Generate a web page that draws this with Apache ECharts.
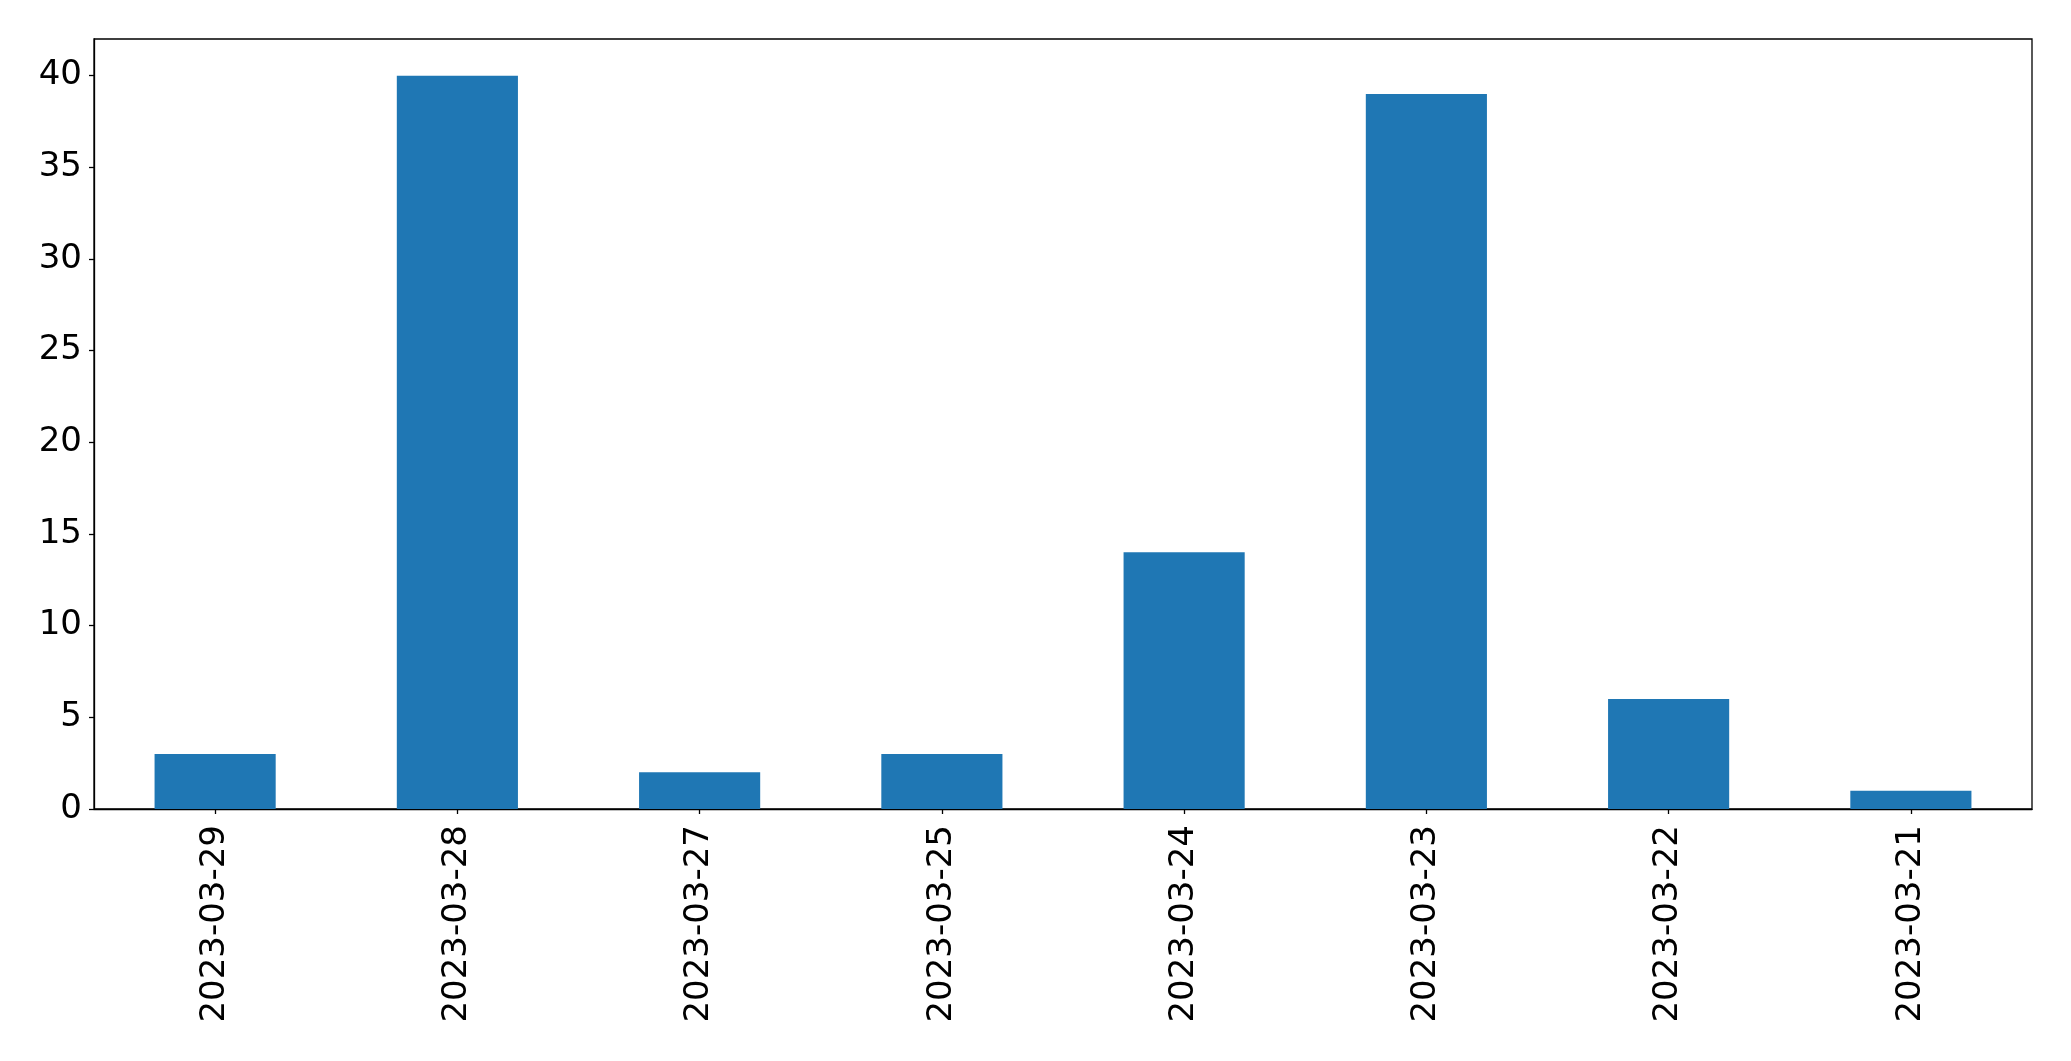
<!DOCTYPE html>
<html><head><meta charset="utf-8">
<script src="https://cdn.jsdelivr.net/npm/echarts@6/dist/echarts.min.js"></script>
<style>html,body{margin:0;padding:0;background:#fff}#c{width:2071px;height:1061px}</style>
</head><body><div id="c"></div>
<script>
const categories = ['2023-03-29','2023-03-28','2023-03-27','2023-03-25','2023-03-24','2023-03-23','2023-03-22','2023-03-21'];
const values = [3, 40, 2, 3, 14, 39, 6, 1];
const yTicks = [0, 5, 10, 15, 20, 25, 30, 35, 40];
const yMax = 42;

const chart = echarts.init(document.getElementById('c'), null, {renderer: 'canvas'});
const font = 'DejaVu Sans';
chart.setOption({
  animation: false,
  grid: {left: 94, right: 39, top: 39, bottom: 252, show: true, borderColor: '#000', borderWidth: 1.3, containLabel: false},
  xAxis: {
    type: 'category', data: categories,
    axisLine: {show: true, lineStyle: {color: '#000', width: 1.3}},
    axisTick: {show: true, alignWithLabel: true, length: 5, inside: false, lineStyle: {color: '#000', width: 1.3}},
    axisLabel: {rotate: 90, margin: 16, color: '#000', fontSize: 34, fontFamily: font},
    splitLine: {show: false}
  },
  yAxis: {
    type: 'value', min: 0, max: yMax, interval: 5,
    axisLine: {show: true, lineStyle: {color: '#000', width: 1.3}},
    axisTick: {show: true, length: 5, customValues: yTicks, lineStyle: {color: '#000', width: 1.3}},
    axisLabel: {margin: 12, color: '#000', fontSize: 34, fontFamily: font, customValues: yTicks},
    splitLine: {show: false}
  },
  series: [{
    type: 'bar', data: values, barWidth: '50%',
    itemStyle: {color: '#1f77b4'}
  }]
});
</script></body></html>
